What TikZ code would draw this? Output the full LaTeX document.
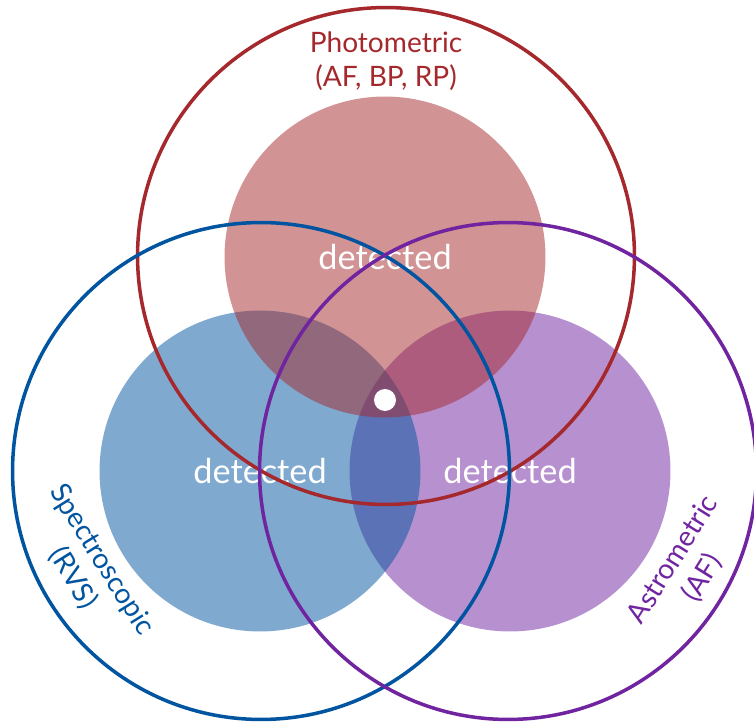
\documentclass[tikz,border=0pt]{standalone}
\usepackage{fontspec}
\setmainfont{Lato}
\definecolor{photo}{RGB}{165,40,44}
\definecolor{spectro}{RGB}{0,84,160}
\definecolor{astro}{RGB}{112,36,160}

\begin{document}
\begin{tikzpicture}[x=0.02cm, y=-0.02cm,
	ring/.style={circle, draw, line width=2pt, inner sep=0pt, minimum size=9.94cm},
	blob/.style={circle, inner sep=0pt, minimum size=6.42cm, fill opacity=0.5},
	found/.style={text=white, font=\fontsize{19.5}{21}\selectfont},
	channel/.style={align=center, font=\fontsize{16}{19.5}\selectfont}]
	\useasboundingbox (0, 0) rectangle (754, 723);

	% filled discs, purple under blue under red
	\node (ab) at (510, 471) [blob, fill=astro] {};
	\node (sb) at (260, 471) [blob, fill=spectro] {};
	\node (pb) at (385, 257) [blob, fill=photo] {};

	\node (pd) at (pb) [found] {detected};
	\node (sd) at (sb) [found] {detected};
	\node (ad) at (ab) [found] {detected};
	\node (all) at (385, 400) [circle, fill=white, inner sep=0pt, minimum size=0.44cm] {};

	\node (pr) at (386, 256) [ring, photo] {};
	\node (sr) at (261, 471) [ring, spectro] {};
	\node (ar) at (508, 471) [ring, astro] {};

	\node (pt) at (386, 61) [channel, text=photo] {Photometric\\(AF, BP, RP)};
	\node (st) at (87, 569) [channel, text=spectro, rotate=-58] {Spectroscopic\\(RVS)};
	\node (at) at (688, 569) [channel, text=astro, rotate=58] {Astrometric\\(AF)};
\end{tikzpicture}
\end{document}
